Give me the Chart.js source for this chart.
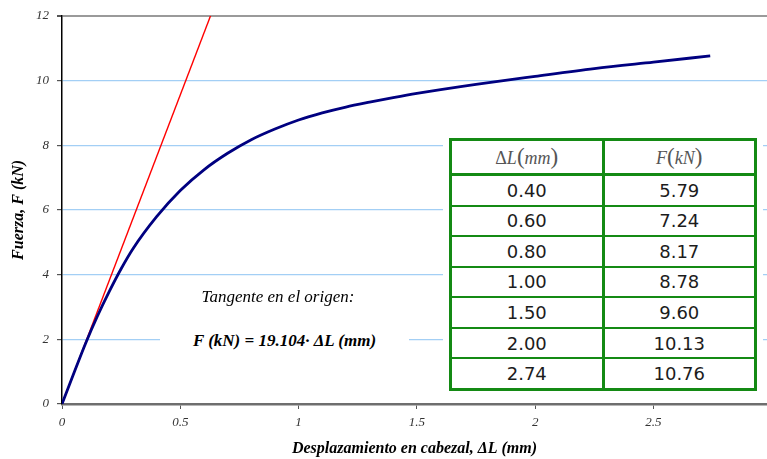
<!DOCTYPE html>
<html>
<head>
<meta charset="utf-8">
<script src="https://cdn.jsdelivr.net/npm/chart.js@4"></script>
<style>
  html,body{margin:0;padding:0;background:#fff;}
  #wrap{position:relative;width:767px;height:459px;}
  #wrap canvas{position:absolute;left:0;top:0;}
  .note{position:absolute;font-family:'Liberation Serif',serif;color:#000;white-space:nowrap;text-align:center;}
  #tblBack{position:absolute;left:443px;top:133px;width:320px;height:262px;background:#fff;}
  #tbl{position:absolute;left:449px;top:138px;width:308px;height:253px;border-collapse:collapse;border:3px solid #148a14;background:#fff;table-layout:fixed;}
  #tbl td,#tbl th{border-left:3px solid #148a14;border-right:3px solid #148a14;border-top:2px solid #148a14;padding:0;text-align:center;
    font-family:'DejaVu Sans',sans-serif;font-size:18px;color:#1c1c1c;font-weight:normal;}
  #tbl th{height:32px;border-bottom:3px solid #148a14;font-family:'Liberation Serif',serif;font-size:18px;color:#555;}
  #tbl th .p{font-size:23px;font-style:normal;}
</style>
</head>
<body>
<div id="wrap">
  <canvas id="c" width="767" height="459"></canvas>
  <div class="note" style="left:163px;top:287px;width:230px;font-size:17px;font-style:italic;">Tangente en el origen:</div>
  <div class="note" style="left:160px;top:330px;width:249px;height:22px;line-height:22px;background:#fff;font-size:17px;font-style:italic;font-weight:bold;">F (kN) = 19.104· ΔL (mm)</div>
  <div id="tblBack"></div>
  <table id="tbl"></table>
</div>
<script>
/* ─── DATA ──────────────────────────────── */
const curveX   = [0, 0.05, 0.10, 0.15, 0.20, 0.25, 0.30, 0.40, 0.50, 0.60, 0.70, 0.80, 0.90, 1.00, 1.10, 1.20, 1.30, 1.40, 1.50, 1.75, 2.00, 2.25, 2.50, 2.74];
const curveY   = [0, 0.95, 1.88, 2.72, 3.48, 4.18, 4.80, 5.79, 6.60, 7.24, 7.75, 8.17, 8.50, 8.78, 9.00, 9.18, 9.33, 9.47, 9.60, 9.88, 10.13, 10.37, 10.57, 10.76];
const tangentX = [0, 0.628];
const tangentY = [0, 12];
const tableDL  = [0.40, 0.60, 0.80, 1.00, 1.50, 2.00, 2.74];
const tableF   = [5.79, 7.24, 8.17, 8.78, 9.60, 10.13, 10.76];
const xTicks   = [0, 0.5, 1, 1.5, 2, 2.5];
const yTicks   = [0, 2, 4, 6, 8, 10, 12];

/* ─── TABLE ─────────────────────────────── */
document.getElementById('tbl').innerHTML =
  '<tr><th>Δ<i>L</i><span class="p">(</span><i>mm</i><span class="p">)</span></th>' +
  '<th><i>F</i><span class="p">(</span><i>kN</i><span class="p">)</span></th></tr>' +
  tableDL.map((d,i)=>`<tr><td>${d.toFixed(2)}</td><td>${tableF[i].toFixed(2)}</td></tr>`).join('');

/* ─── CHART ─────────────────────────────── */
const tickFont  = {family:'Liberation Serif', size:13, style:'italic'};
const titleFont = {family:'Liberation Serif', size:16, style:'italic', weight:'bold'};

new Chart(document.getElementById('c').getContext('2d'),{
  type:'scatter',
  data:{
    datasets:[
      {
        label:'Curva',
        data:curveX.map((x,i)=>({x, y:curveY[i]})),
        showLine:true, borderColor:'#000080', borderWidth:2.8,
        pointRadius:0, cubicInterpolationMode:'monotone', order:1
      },
      {
        label:'Tangente',
        data:tangentX.map((x,i)=>({x, y:tangentY[i]})),
        showLine:true, borderColor:'#ff0000', borderWidth:1.4,
        pointRadius:0, order:2
      }
    ]
  },
  options:{
    responsive:false, animation:false,
    layout:{padding:{top:13,right:0,left:0,bottom:0}},
    plugins:{legend:{display:false}, tooltip:{enabled:false}},
    scales:{
      x:{
        type:'linear', min:0, max:2.98,
        afterFit: s=>{ s.height = 55; },
        afterBuildTicks: s=>{ s.ticks = xTicks.map(v=>({value:v})); },
        border:{color:'#6e6e6e', width:2.5},
        grid:{drawOnChartArea:false, drawTicks:true, tickLength:5, tickColor:'#555'},
        ticks:{color:'#333', font:tickFont, padding:6, maxRotation:0, callback:v=>String(v)},
        title:{display:true, text:'Desplazamiento en cabezal, ΔL (mm)', color:'#000', font:titleFont, padding:{top:0,bottom:1}}
      },
      y:{
        type:'linear', min:0, max:12,
        afterFit: s=>{ s.width = 62; },
        afterBuildTicks: s=>{ s.ticks = yTicks.map(v=>({value:v})); },
        border:{color:'#000', width:1.5},
        grid:{
          color: ctx=> ctx.tick.value===12 ? '#9a9a9a' : ctx.tick.value===0 ? 'rgba(0,0,0,0)' : '#a3cff5',
          lineWidth: ctx=> ctx.tick.value===12 ? 2 : 1.2,
          drawTicks:true, tickLength:5, tickColor:'#555'
        },
        ticks:{color:'#333', font:tickFont, padding:8, callback:v=>String(v)},
        title:{display:true, text:'Fuerza, F (kN)', color:'#000', font:titleFont, padding:{top:9,bottom:0}}
      }
    }
  }
});
</script>
</body>
</html>
